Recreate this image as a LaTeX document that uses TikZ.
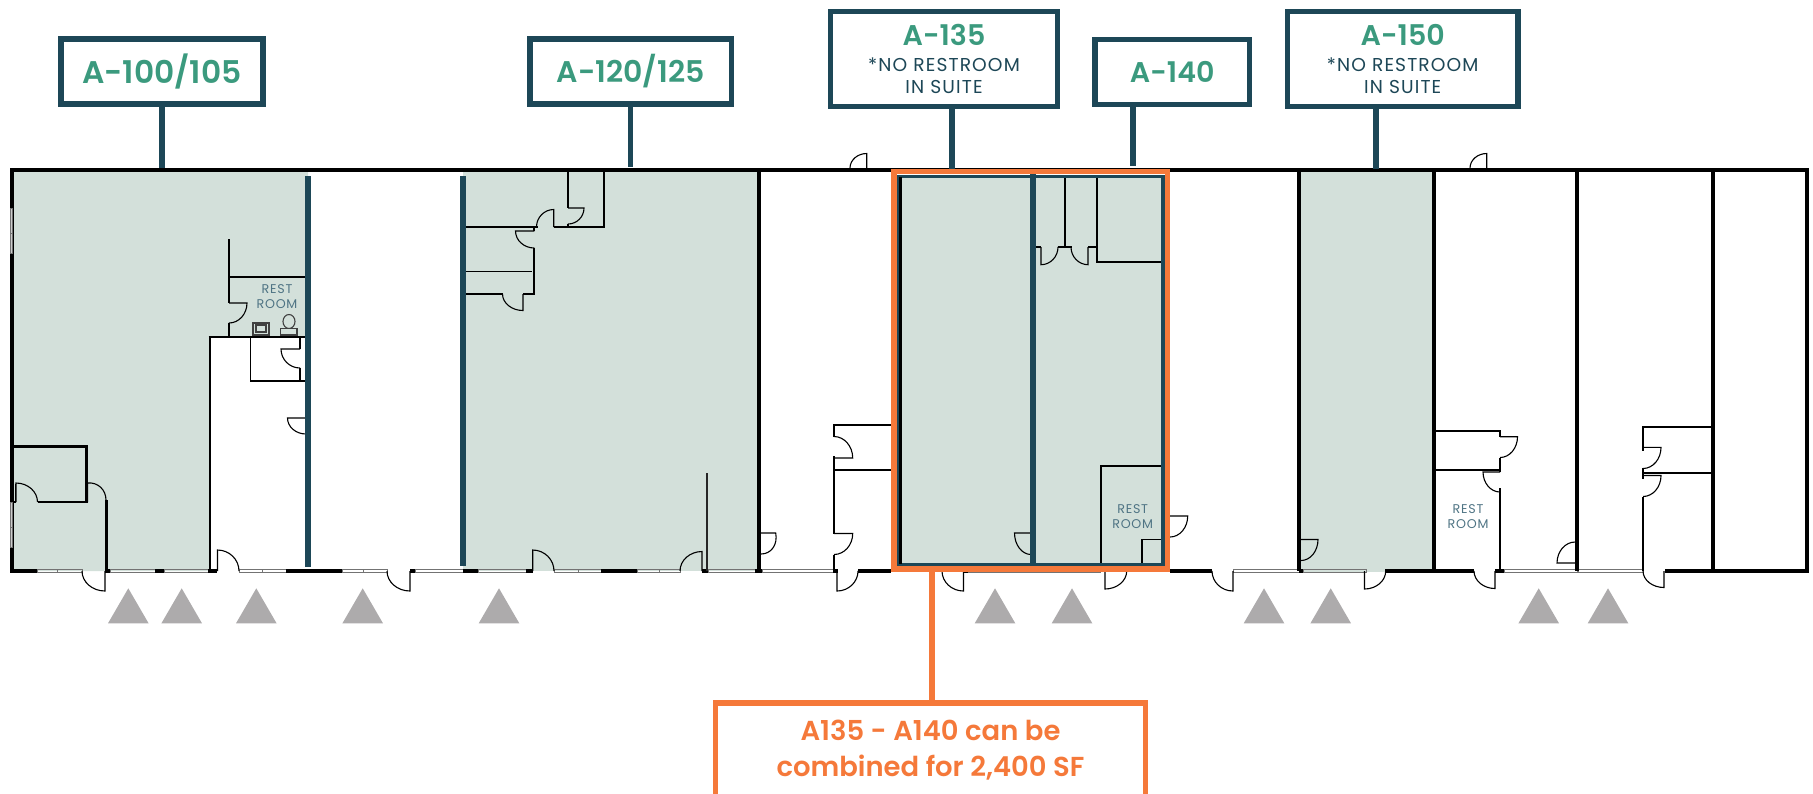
\documentclass[tikz,border=0pt]{standalone}
\usepackage{fontspec}
\setmainfont{Poppins}[BoldFont={Poppins SemiBold}]
\usetikzlibrary{calc}

\definecolor{suitegreen}{HTML}{D3E0DA}
\definecolor{tagteal}{HTML}{1D4757}
\definecolor{taggreen}{HTML}{3B9A7E}
\definecolor{comboorange}{HTML}{F5793A}
\definecolor{roomtext}{HTML}{4F7484}
\definecolor{entrygray}{HTML}{ADABAC}

\newcommand\tagname[2][8.1]{{\fontsize{#1}{9}\selectfont\bfseries\color{taggreen}#2}}
\newcommand\tagnote[1]{{\addfontfeature{LetterSpace=6}\color{tagteal}#1}}
\newcommand\doorswing[3]{\draw[doorleaf] (#1) -- (#2) .. controls ($(#2)+.55*(#3)-.55*(#1)$) and ($(#3)+.55*(#2)-.55*(#1)$) .. (#3);}

\begin{document}
\begin{tikzpicture}[
        x=.01cm, y=-.01cm,
        wallthick/.style={draw=black, line width=.04cm},
        wallmid/.style={draw=black, line width=.03cm},
        wallthin/.style={draw=black, line width=.018cm},
        doorleaf/.style={draw=black, line width=.011cm},
        windowpane/.style={draw=black!55, line width=.008cm},
        suitewall/.style={draw=tagteal, line width=.055cm},
        leader/.style={draw=tagteal, line width=.055cm},
        roomtag/.style={
            shape=rectangle,
            draw=tagteal,
            line width=.055cm,
            fill=white,
            align=center,
            inner sep=0pt,
            font=\fontsize{5.3}{6.2}\selectfont
        },
        comboline/.style={draw=comboorange, line width=.055cm},
        restlabel/.style={
            align=center,
            inner sep=0pt,
            text=roomtext,
            font=\fontsize{3.6}{4.25}\selectfont\addfontfeature{LetterSpace=6}
        }
    ]
    \clip (0,0) rectangle (1813,793);

    % SUITES
    \fill[suitegreen] (12,170) -- (308,170) -- (308,337) -- (210,337) -- (210,571) -- (12,571) -- cycle;
    \fill[suitegreen] (463,170) rectangle (758,571);
    \fill[suitegreen] (900,177) rectangle (1164,565);
    \fill[suitegreen] (1299,170) rectangle (1434,572);

    % WINDOWS
    \foreach \xa/\xb in {37/57,57/82,110/155,164/208,239/262,262/286,342/363,363/387,415/463,478/526,554/578,578/601,637/659,659/680,708/755,762/833,968/1100,1233/1299,1303/1366,1504/1577,1578/1643}
        \draw[windowpane] (\xa,569.5) rectangle (\xb,572.5);

    % OUTER WALLS
    \draw[wallthick] (12,571) -- (12,170) -- (1807,170) -- (1807,571);
    \foreach \xa/\xb in {10/37,105/110,155/164,208/217,286/342,410/415,463/478,526/533,601/637,702/708,755/762,833/838,858/891,963/968,1170/1212,1299/1303,1385/1474,1495/1504,1665/1809}
        \draw[wallthick] (\xa,571) -- (\xb,571);
    \foreach \wx in {758.7,1299,1434,1577,1713}
        \draw[wallthick] (\wx,170) -- (\wx,571);
    \foreach \ya/\yb in {208/233,233/253,502/527,527/547}
        \draw[windowpane, fill=black!20] (10,\ya) rectangle (12.5,\yb);

    % ROOMS A-100
    \draw[wallmid] (14,446) -- (86,446) -- (86,503);
    \draw[wallthin] (38,502) -- (86,502);
    \draw[wallthin] (14,502) -- (15.5,502) -- (15.5,484);
    \draw[wallmid] (106,500) -- (106,571);
    \draw[wallthin] (229,239) -- (229,303);
    \draw[wallthin] (229,277) -- (306,277);
    \draw[wallthin] (229,323) -- (229,337);
    \draw[wallthin] (208.5,337) -- (306,337);
    \draw[wallthin] (210,337) -- (210,571);
    \draw[wallthin] (250.5,337) -- (250.5,381) -- (306,381);
    \draw[wallthin] (300,337) -- (300,349);
    \draw[wallthin] (300,368) -- (300,381);
    \draw[doorleaf, black!75] (253,323) rectangle (269,335);
    \draw[doorleaf, black!75] (256,325) rectangle (266,332);
    \draw[doorleaf, black!75] (289,321.5) ellipse [x radius=6, y radius=7];
    \draw[doorleaf, black!75, fill=suitegreen] (280.5,328.5) rectangle (297,335);

    % ROOMS A-120
    \draw[wallthin] (568,170) -- (568,208);
    \draw[wallthin] (568,224) -- (568,227);
    \draw[wallthin] (604,170) -- (604,227) -- (553.7,227);
    \draw[wallthin] (465,227) -- (538,227);
    \draw[wallthin] (534.3,227) -- (534.3,231);
    \draw[wallthin] (534.3,248) -- (534.3,294) -- (522.7,294);
    \draw[doorleaf] (465,271.5) -- (532,271.5);
    \draw[wallthin] (465,294) -- (502.5,294);
    \draw[wallthin, black!85] (707,473) -- (707,571);

    % ROOMS A-130
    \draw[wallthin] (891,425) -- (834,425) -- (834,437);
    \draw[wallthin] (834,456) -- (834,533.5);
    \draw[wallthin] (834,470) -- (891,470);
    \draw[wallthin] (834,554.5) -- (834,571);

    % ROOMS A-140
    \draw[wallthin] (1065,176) -- (1065,247);
    \draw[wallthin] (1097,176) -- (1097,262) -- (1165,262);
    \draw[wallthin] (1036,247) -- (1041,247);
    \draw[wallthin] (1058,247) -- (1072,247);
    \draw[wallthin] (1088,247) -- (1097,247);
    \draw[wallthin] (1101,563) -- (1101,465.7) -- (1165,465.7);
    \draw[wallthin] (1142,563) -- (1142,539.5) -- (1165,539.5);

    % ROOMS A-155 AND A-160
    \draw[wallthin] (1436,431) -- (1500,431) -- (1500,437);
    \draw[wallthin] (1500,457.5) -- (1500,472);
    \draw[wallthin] (1436,470) -- (1500,470);
    \draw[wallthin] (1500,488) -- (1500,569);
    \draw[wallthin] (1712,427) -- (1643,427) -- (1643,451);
    \draw[wallthin] (1643,468) -- (1643,479);
    \draw[wallthin] (1643,473) -- (1712,473);
    \draw[wallthin] (1643,496.5) -- (1643,571);

    % DOORS
    \doorswing{105,571}{105,591}{82,571}
    \doorswing{217.5,571}{217.5,550}{239,571}
    \doorswing{410,571}{410,591}{387,571}
    \doorswing{532.7,571}{532.7,550}{554,571}
    \doorswing{702,571}{702,551.5}{680,571}
    \doorswing{837,571}{837,591}{858,571}
    \doorswing{963.5,571}{963.5,591}{942,571}
    \doorswing{1105,571}{1105,589}{1126.7,571}
    \doorswing{1233,571}{1233,591}{1212,571}
    \doorswing{1364.5,571}{1364.5,589}{1385.7,571}
    \doorswing{1495,571}{1495,588.5}{1474,571}
    \doorswing{1664,571}{1664,587.5}{1643,571}
    \doorswing{866.7,168}{866.7,153.5}{850,168}
    \doorswing{1486.7,168}{1486.7,153.5}{1470,168}
    \doorswing{16,502}{16,483}{37.5,502}
    \doorswing{87.5,502}{87.5,483}{106,500}
    \doorswing{229,303}{247,303}{229,323}
    \doorswing{300,349}{281,349}{300,368}
    \doorswing{306,418}{287.5,418}{306,434}
    \doorswing{568,208}{584,208}{568,224}
    \doorswing{553.7,227}{553.7,209.5}{536.5,227}
    \doorswing{534.3,231}{515.5,231}{534.3,248}
    \doorswing{523,294}{523,310.5}{502.5,294}
    \doorswing{757,533}{775.7,533}{761,554}
    \doorswing{834,458}{852.7,458}{834,436.5}
    \doorswing{834,533.5}{852.7,533.5}{834,554.5}
    \doorswing{1041,247}{1041,264.7}{1058,247}
    \doorswing{1088,247}{1088,264.7}{1071,247}
    \doorswing{1031,533}{1014.5,533}{1031,554.5}
    \doorswing{1170,516}{1187.7,516}{1170,537}
    \doorswing{1301,539.5}{1318,539.5}{1301,560.5}
    \doorswing{1500,436.7}{1517.5,436.7}{1500,457.5}
    \doorswing{1500,472}{1483,472}{1500,492}
    \doorswing{1575,563}{1557,563}{1575,542}
    \doorswing{1643,447.3}{1661,447.3}{1643,468.5}
    \doorswing{1643,475.5}{1661,475.5}{1643,496.5}

    % SUITE OUTLINES
    \draw[suitewall] (308,176) -- (308,567);
    \draw[suitewall] (463,176) -- (463,566);
    \draw[suitewall, line width=.035cm] (898,176.5) rectangle (1163,564.7);
    \draw[wallmid] (900.7,177) -- (900.7,564);
    \draw[suitewall] (1033,174) -- (1033,567);
    \draw[comboline] (894,171.7) rectangle (1167.5,569);

    % ENTRIES
    \foreach \ex in {128.3,181.7,256.3,362.7,499,995,1072,1264,1330.7,1538.7,1608}
        \fill[entrygray] (\ex-20.3,623.3) -- (\ex,588.3) -- (\ex+20.3,623.3) -- cycle;

    % REST ROOMS
    \node[restlabel] (rest100) at (277,297) {REST\\ROOM};
    \node[restlabel] (rest140) at (1132.7,516.5) {REST\\ROOM};
    \node[restlabel] (rest155) at (1468,516.5) {REST\\ROOM};

    % TAGS
    \node[roomtag, minimum width=2.02cm, minimum height=.65cm] (a100) at (162,71.5) {\tagname[8.9]{A-100/105}};
    \node[roomtag, minimum width=2.015cm, minimum height=.65cm] (a120) at (630.7,71.5) {\tagname[8.5]{A-120/125}};
    \node[roomtag, minimum width=2.27cm, minimum height=.95cm] (a135) at (944,59) {\tagname{A-135}\\[1.3pt]\tagnote{*NO RESTROOM}\\\tagnote{IN SUITE}};
    \node[roomtag, minimum width=1.545cm, minimum height=.65cm] (a140) at (1172.2,72) {\tagname{A-140}};
    \node[roomtag, minimum width=2.305cm, minimum height=.95cm] (a150) at (1402.7,59) {\tagname{A-150}\\[1.3pt]\tagnote{*NO RESTROOM}\\\tagnote{IN SUITE}};
    \node[roomtag, draw=comboorange, text=comboorange, font=\fontsize{7.8}{10}\selectfont\bfseries, minimum width=4.3cm, minimum height=.94cm] (combo) at (930.5,750) {A135 - A140 can be\\combined for 2,400 SF};

    % LEADERS
    \coordinate (a100foot) at (162,168);
    \coordinate (a120foot) at (630.7,166.7);
    \coordinate (a135foot) at (952,169);
    \coordinate (a140foot) at (1133,166);
    \coordinate (a150foot) at (1376,169);
    \coordinate (combofoot) at (932,571);
    \draw[leader] (a100.south) -- (a100foot);
    \draw[leader] (a120.south) -- (a120foot);
    \draw[leader] (a135.south -| a135foot) -- (a135foot);
    \draw[leader] (a140.south -| a140foot) -- (a140foot);
    \draw[leader] (a150.south -| a150foot) -- (a150foot);
    \draw[comboline] (combo.north -| combofoot) -- (combofoot);
\end{tikzpicture}
\end{document}
